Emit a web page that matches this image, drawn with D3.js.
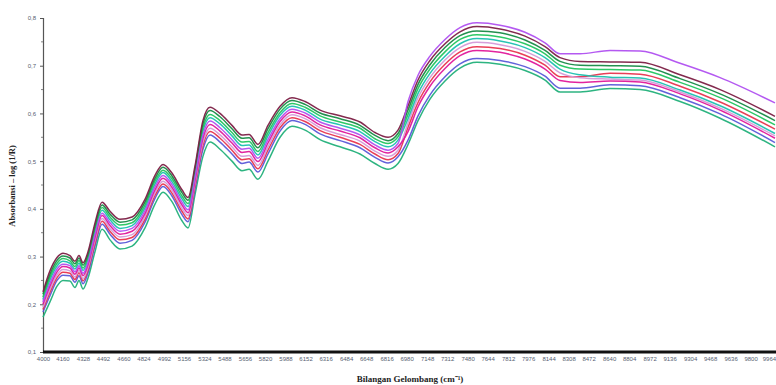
<!DOCTYPE html>
<html><head><meta charset="utf-8">
<script src="https://cdn.jsdelivr.net/npm/d3@7/dist/d3.min.js"></script>
<style>html,body{margin:0;padding:0;background:#fff;}svg{display:block;}</style>
</head><body>
<svg id="chart" width="776" height="385"></svg>
<script>
// Wavenumbers (cm-1) at which the spectra were read
const wavenumbers = [4000,4057,4115,4164,4221,4262,4295,4328,4369,4426,4484,4549,4631,4730,4836,4918,4984,5057,5139,5189,5246,5311,5369,5451,5549,5631,5689,5762,5844,5943,6041,6148,6271,6435,6598,6721,6828,6910,6992,7074,7172,7295,7418,7557,7746,7951,8115,8238,8402,8648,8894,9222,9550,10000];

const xTickLabels = [4000,4160,4328,4492,4660,4824,4992,5156,5324,5488,5656,5820,5988,6152,6316,6484,6648,6816,6980,7148,7312,7480,7644,7812,7976,8144,8308,8472,8640,8804,8972,9136,9304,9468,9636,9800,9964];
const yTickLabels = [0.1,0.2,0.3,0.4,0.5,0.6,0.7,0.8];

const violet  = [.205,.244,.274,.284,.281,.268,.281,.265,.288,.346,.391,.371,.353,.359,.396,.446,.470,.451,.414,.398,.466,.555,.584,.570,.545,.525,.527,.506,.545,.589,.609,.601,.582,.569,.555,.534,.523,.537,.625,.680,.720,.755,.780,.790,.785,.770,.748,.725,.725,.732,.731,.705,.675,.622];
const maroon  = [.226,.270,.298,.307,.302,.290,.302,.287,.310,.370,.414,.395,.378,.383,.420,.470,.493,.475,.440,.424,.490,.585,.613,.600,.575,.555,.556,.535,.575,.615,.633,.625,.607,.595,.582,.560,.550,.565,.616,.670,.711,.746,.771,.782,.777,.762,.740,.717,.709,.708,.707,.681,.650,.594];
const darkGreen = [.221,.263,.292,.301,.297,.285,.297,.282,.305,.364,.408,.389,.372,.377,.414,.464,.487,.469,.434,.418,.484,.578,.606,.593,.568,.548,.549,.528,.568,.609,.627,.619,.601,.589,.575,.554,.543,.558,.607,.661,.702,.738,.763,.773,.769,.754,.732,.709,.701,.700,.699,.673,.641,.585];
const green   = [.215,.257,.286,.296,.291,.279,.292,.276,.299,.358,.403,.383,.366,.371,.408,.458,.481,.463,.427,.411,.478,.570,.598,.585,.560,.540,.541,.520,.560,.602,.621,.613,.595,.582,.569,.547,.537,.551,.598,.652,.693,.729,.755,.765,.760,.746,.725,.701,.693,.692,.691,.665,.633,.576];
const teal    = [.210,.251,.280,.290,.286,.274,.286,.271,.294,.352,.397,.377,.359,.365,.402,.452,.476,.457,.421,.405,.472,.563,.591,.578,.553,.533,.534,.513,.553,.596,.615,.607,.588,.576,.562,.541,.530,.544,.589,.642,.684,.720,.746,.757,.752,.738,.717,.693,.681,.676,.674,.649,.616,.558];
const lilac   = [.194,.231,.262,.273,.270,.257,.271,.254,.277,.334,.380,.359,.341,.346,.384,.434,.458,.439,.401,.386,.454,.540,.569,.555,.530,.510,.512,.491,.530,.576,.597,.589,.570,.556,.542,.521,.510,.523,.580,.633,.675,.712,.738,.749,.744,.730,.709,.685,.675,.672,.670,.645,.611,.553];
const magenta = [.200,.238,.268,.279,.276,.263,.276,.260,.283,.340,.386,.365,.347,.353,.390,.440,.464,.445,.408,.392,.460,.548,.577,.563,.538,.518,.520,.499,.538,.583,.603,.595,.576,.563,.549,.528,.517,.530,.562,.614,.657,.694,.721,.732,.728,.714,.693,.669,.665,.668,.666,.641,.607,.548];
const red     = [.189,.225,.256,.267,.265,.252,.266,.249,.272,.328,.374,.353,.335,.340,.378,.428,.452,.433,.395,.379,.448,.533,.562,.548,.523,.503,.505,.484,.523,.570,.591,.583,.564,.550,.535,.515,.503,.516,.571,.623,.666,.703,.729,.740,.736,.722,.701,.677,.677,.684,.682,.657,.624,.567];
const blue    = [.184,.218,.250,.261,.260,.246,.260,.243,.266,.322,.368,.347,.328,.334,.372,.422,.447,.427,.388,.373,.442,.525,.555,.540,.515,.495,.498,.477,.515,.563,.585,.577,.557,.543,.528,.508,.496,.509,.544,.595,.639,.677,.704,.715,.711,.698,.678,.653,.653,.660,.658,.633,.599,.539];
const seaGreen = [.173,.205,.238,.250,.249,.235,.250,.232,.255,.310,.357,.335,.316,.322,.360,.410,.435,.415,.375,.360,.430,.510,.540,.525,.500,.480,.483,.462,.500,.550,.573,.565,.545,.530,.515,.495,.483,.495,.535,.585,.630,.668,.695,.707,.703,.690,.670,.645,.645,.652,.650,.625,.590,.530];

const seriesList = [
  {name:"S10", values: seaGreen, color:"#22b07a"},
  {name:"S9", values: blue, color:"#5a5ad8"},
  {name:"S8", values: red, color:"#e8344e"},
  {name:"S6", values: lilac, color:"#d49ad8"},
  {name:"S7", values: magenta, color:"#e0189a"},
  {name:"S5", values: teal, color:"#1cc0b0"},
  {name:"S4", values: green, color:"#22c55e"},
  {name:"S3", values: darkGreen, color:"#178a46"},
  {name:"S2", values: maroon, color:"#7c1f44"},
  {name:"S1", values: violet, color:"#b050f0"}
];

const svg = d3.select("#chart");
const x = d3.scaleLinear().domain([4000,10000]).range([43,775]);
const y = d3.scaleLinear().domain([0.1,0.8]).range([352,18]);

// y axis
const yAxis = d3.axisLeft(y).tickValues(yTickLabels).tickSize(3)
  .tickFormat(d => d3.format(".1f")(d).replace(".", ","));
const gy = svg.append("g").attr("transform","translate(43,0)").call(yAxis);
gy.select(".domain").attr("stroke","#555").attr("stroke-width",1.2);
gy.selectAll(".tick line").attr("stroke","#555");
gy.selectAll(".tick text").attr("font-family","Arial, 'Liberation Sans', sans-serif")
  .attr("font-size",6).attr("fill","#556070").attr("dx","-1");
// minor ticks
const minor = d3.range(0.15,0.8,0.1);
svg.append("g").selectAll("line").data(minor).join("line")
  .attr("x1",41).attr("x2",43).attr("y1",d=>y(d)).attr("y2",d=>y(d))
  .attr("stroke","#666").attr("stroke-width",0.8);

// spectra
const line = d3.line().x((d,i)=>x(wavenumbers[i])).y(d=>y(d)).curve(d3.curveMonotoneX);
svg.append("g").selectAll("path").data(seriesList).join("path")
  .attr("d", s => line(s.values))
  .attr("fill","none").attr("stroke", s=>s.color).attr("stroke-width",1.5)
  .attr("stroke-linejoin","round").attr("opacity",0.95);

// x axis
const xAxis = d3.axisBottom(x).tickValues(xTickLabels).tickSize(0).tickFormat(d3.format("d"));
const gx = svg.append("g").attr("transform","translate(0,352)").call(xAxis);
gx.select(".domain").attr("stroke","#111").attr("stroke-width",3).attr("d","M43,0H776");
gx.selectAll(".tick text").attr("font-family","Arial, 'Liberation Sans', sans-serif")
  .attr("font-size",6).attr("fill","#556070").attr("dy","0.95em");
// keep the last label inside the picture
gx.selectAll(".tick text").filter(d => d === xTickLabels[xTickLabels.length-1])
  .attr("text-anchor","end").attr("dx","5");

// axis titles
svg.append("text").attr("x",410).attr("y",382).attr("text-anchor","middle")
  .attr("font-family","'Liberation Serif','Times New Roman',serif").attr("font-weight","bold")
  .attr("font-size",9).attr("fill","#222")
  .text("Bilangan Gelombang (cm⁻¹)");
svg.append("text").attr("transform","translate(15,186) rotate(-90)").attr("text-anchor","middle")
  .attr("font-family","'Liberation Serif','Times New Roman',serif").attr("font-weight","bold")
  .attr("font-size",8.5).attr("fill","#222")
  .text("Absorbansi – log (1/R)");
</script>
</body></html>
